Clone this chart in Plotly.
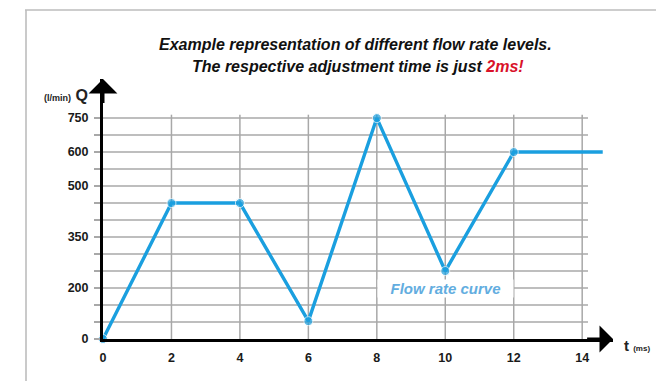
import numpy as np
import plotly.graph_objects as go

# Flow rate profile: time (ms) and flow rate Q (l/min)
time_ms = [0, 2, 4, 6, 8, 10, 12, 14.6]
flow_q = [0, 450, 450, 70, 750, 250, 600, 600]

# Labelled flow-rate levels on the Q axis and their grid row
q_labels = [0, 200, 350, 500, 600, 750]
q_rows = [0, 3, 6, 9, 11, 13]
n_rows = 13
t_ticks = [0, 2, 4, 6, 8, 10, 12, 14]

# Figure geometry (pixels)
W, H = 656, 381
ML, MR, MT, MB = 103, 43, 79, 42
PW, PH = W - ML - MR, H - MT - MB
X_MAX, Y_MAX = 14.9, 15.3


def px_x(px):
    return (px - ML) / PW


def px_y(py):
    return (H - MB - py) / PH


def q_to_row(q):
    return np.interp(q, q_labels, q_rows)


LINE_BLUE = "#1a9fdf"
GRID = "#a8a8a8"
FONT = "Liberation Sans"
TICK_FONT = dict(family="Liberation Sans Narrow, " + FONT, size=12.5, color="#1a1a1a", weight="bold")

rows = q_to_row(np.array(flow_q, dtype=float))
marker_sizes = [9] * (len(time_ms) - 1) + [0]

fig = go.Figure()
fig.add_trace(go.Scatter(
    x=time_ms, y=rows, mode="lines+markers",
    line=dict(color=LINE_BLUE, width=3.4),
    marker=dict(color=LINE_BLUE, size=marker_sizes),
    cliponaxis=False, hoverinfo="skip", showlegend=False,
))

shapes = []
# horizontal grid lines
for r in range(1, n_rows + 1):
    shapes.append(dict(type="line", xref="x", yref="y", x0=0, x1=14.17, y0=r, y1=r,
                       line=dict(color=GRID, width=1.5), layer="below"))
# vertical grid lines
for tv in t_ticks[1:]:
    shapes.append(dict(type="line", xref="x", yref="y", x0=tv, x1=tv, y0=0, y1=n_rows + 0.2,
                       line=dict(color=GRID, width=1.5), layer="below"))
# short axis extensions beyond the origin
shapes.append(dict(type="line", xref="x", yref="y", ysizemode="pixel", yanchor=0,
                   x0=0, x1=0, y0=0, y1=-8, line=dict(color="black", width=3)))
shapes.append(dict(type="line", xref="x", yref="y", xsizemode="pixel", xanchor=0,
                   x0=0, x1=-8, y0=0, y1=0, line=dict(color="black", width=3)))
# outer frame (top and left edges)
shapes.append(dict(type="line", xref="paper", yref="paper",
                   x0=px_x(25), x1=px_x(W), y0=px_y(10), y1=px_y(10),
                   line=dict(color="#bdbdbd", width=1.6)))
shapes.append(dict(type="line", xref="paper", yref="paper",
                   x0=px_x(26), x1=px_x(26), y0=px_y(10), y1=px_y(H),
                   line=dict(color="#bdbdbd", width=1.6)))

annotations = [
    # axis arrowheads
    dict(x=0, y=Y_MAX, ax=0, ay=Y_MAX - 1.5, xref="x", yref="y", axref="x", ayref="y",
         showarrow=True, arrowhead=1, arrowsize=1.6, arrowwidth=3, arrowcolor="black", text=""),
    dict(x=X_MAX, y=0, ax=X_MAX - 0.8, ay=0, xref="x", yref="y", axref="x", ayref="y",
         showarrow=True, arrowhead=1, arrowsize=1.5, arrowwidth=3, arrowcolor="black", text=""),
    # title lines
    dict(x=px_x(355), y=px_y(44), xref="paper", yref="paper", showarrow=False,
         xanchor="center", yanchor="middle",
         text="<b><i>Example representation of different flow rate levels.</i></b>",
         font=dict(family=FONT, size=16, color="#111111")),
    dict(x=px_x(358), y=px_y(67), xref="paper", yref="paper", showarrow=False,
         xanchor="center", yanchor="middle",
         text="<b><i>The respective adjustment time is just "
              "<span style='color:#d9122a'>2ms!</span></i></b>",
         font=dict(family=FONT, size=16, color="#111111")),
    # axis titles
    dict(x=px_x(90), y=px_y(95), xref="paper", yref="paper", showarrow=False,
         xanchor="right", yanchor="middle",
         text="<b><span style='font-size:9px'>(l/min)</span> Q</b>",
         font=dict(family=FONT, size=16, color="#222222")),
    dict(x=px_x(622), y=px_y(345), xref="paper", yref="paper", showarrow=False,
         xanchor="left", yanchor="middle",
         text="<b>t <span style='font-size:8px'>(ms)</span></b>",
         font=dict(family=FONT, size=15, color="#222222")),
    # series label
    dict(x=10.02, y=q_to_row(200), xref="x", yref="y", showarrow=False,
         xanchor="center", yanchor="middle",
         text="<b><i>\u00a0\u00a0\u00a0Flow rate curve\u00a0\u00a0\u00a0</i></b>",
         font=dict(family=FONT, size=15, color="#62ade0"),
         bgcolor="white", borderpad=0),
]

tick_text = [""] * (n_rows + 1)
for q, r in zip(q_labels, q_rows):
    tick_text[r] = str(q)

fig.update_layout(
    width=W, height=H,
    margin=dict(l=ML, r=MR, t=MT, b=MB, pad=0),
    paper_bgcolor="white", plot_bgcolor="white",
    shapes=shapes, annotations=annotations,
    xaxis=dict(range=[0, X_MAX], tickvals=t_ticks, ticktext=[str(v) for v in t_ticks],
               showgrid=False, zeroline=False, showline=True, linecolor="black", linewidth=3,
               ticks="", ticklabelstandoff=5, tickfont=TICK_FONT),
    yaxis=dict(range=[0, Y_MAX], tickvals=list(range(n_rows + 1)), ticktext=tick_text,
               showgrid=False, zeroline=False, showline=True, linecolor="black", linewidth=3,
               ticks="outside", ticklen=6, tickwidth=1.5, tickcolor=GRID, ticklabelstandoff=3,
               tickfont=TICK_FONT),
)

fig.write_html("out.html")
